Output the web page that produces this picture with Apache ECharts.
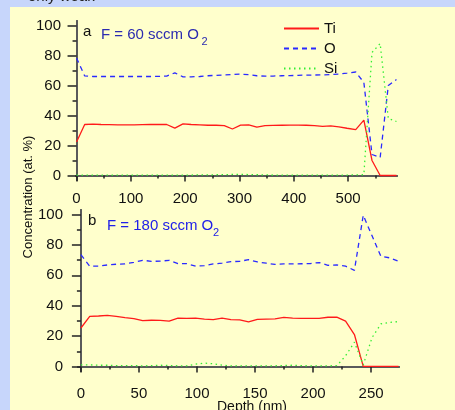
<!DOCTYPE html>
<html>
<head>
<meta charset="utf-8">
<script src="https://cdn.jsdelivr.net/npm/echarts@6/dist/echarts.min.js"></script>
<style>
  html, body { margin: 0; padding: 0; background: #c7d6fb; }
  #panel { position: absolute; left: 10px; top: 7px; width: 445px; height: 403px; background: #ffffcc; }
  #chart { position: absolute; left: 0; top: 0; width: 455px; height: 410px; }
</style>
</head>
<body>
<div id="panel"></div>
<div id="chart"></div>
<script>
// panel a: F = 60 sccm O2
const depthA = [0, 15, 30, 45, 60, 76, 91, 106, 121, 136, 151, 166, 181, 196, 211, 227, 242, 257, 272, 287,
  302, 317, 332, 347, 362, 378, 393, 408, 423, 438, 453, 468, 483, 498, 514, 529, 544, 559, 574, 589];
const tiA = [22.3, 34, 34.3, 34, 33.9, 33.8, 33.8, 33.8, 33.9, 34, 34, 34, 31.6, 34.4, 34, 33.8, 33.5, 33.5, 33.3, 31,
  33.6, 33.8, 32.2, 33.3, 33.4, 33.5, 33.6, 33.6, 33.5, 33.3, 32.8, 33.1, 32.4, 31.5, 30.6, 36.9, 10, 0, 0, 0];
const oA = [78.3, 66.4, 66, 66, 66, 66, 66, 66, 66, 66, 66.1, 66.3, 68.4, 65.8, 65.8, 66, 66.5, 66.8, 67, 67.3,
  67.6, 67.2, 66.5, 66.2, 66.3, 66.5, 66.6, 66.8, 66.9, 67, 67.1, 67.3, 67.6, 68.2, 69, 62, 14, 12, 60, 64];
const siA = [0.3, 0.3, 0.3, 0.3, 0.3, 0.3, 0.3, 0.3, 0.3, 0.3, 0.3, 0.3, 0.3, 0.3, 0.3, 0.4, 0.4, 0.5, 0.6, 0.7,
  0.8, 0.6, 0.5, 0.4, 0.3, 0.3, 0.3, 0.3, 0.3, 0.3, 0.3, 0.3, 0.3, 0.3, 0.4, 0.5, 82, 88, 38, 36];

// panel b: F = 180 sccm O2
const depthB = [0, 7.6, 15.2, 22.8, 30.4, 38, 45.6, 53.2, 60.8, 68.4, 76, 83.6, 91.2, 98.8, 106.4, 114, 121.6, 129.2,
  136.8, 144.4, 152, 159.6, 167.2, 174.8, 182.4, 190, 197.6, 205.2, 212.8, 220.4, 228, 235.6, 243.2, 250.8, 258.4, 266, 273.6];
const tiB = [25.3, 33, 33.2, 33.6, 33, 32.2, 31.5, 30.1, 30.4, 30.3, 29.9, 31.8, 31.7, 31.8, 31.2, 30.8, 31.8, 30.8,
  30.7, 29.3, 31, 31.2, 31.3, 32.3, 31.8, 31.6, 31.6, 31.7, 32.4, 32.5, 29.8, 21, 0, 0, 0, 0, 0];
const oB = [73.6, 66, 66, 66.8, 67.3, 67.5, 68.5, 69.9, 69.2, 69.3, 69.9, 67.7, 67.7, 66, 66.4, 67.5, 68, 69,
  69.2, 70.3, 68.8, 68, 67.2, 67.5, 67.5, 67.6, 67.7, 68.4, 66.6, 66.8, 66, 63.3, 99.5, 86, 72.5, 71.5, 69.2];
const siB = [1, 1, 0.8, 0.8, 0.6, 0.5, 0.5, 0.4, 0.5, 0.8, 0.6, 0.4, 0.4, 1.5, 2.2, 1.8, 0.8, 0.4,
  0.4, 0.4, 0.4, 0.4, 0.4, 0.6, 0.8, 0.5, 0.4, 0.4, 0.4, 0.5, 7, 16, 1, 19, 28, 29, 29.5];

// ticks and labels
const yMajor = [0, 20, 40, 60, 80, 100];
const yMinor = [10, 30, 50, 70, 90];
const yRight = [0, 10, 20, 30, 40, 50, 60, 70, 80, 90, 100];
const xMajorA = [0, 100, 200, 300, 400, 500];
const xMinorA = [50, 150, 250, 350, 450, 550];
const xMajorB = [0, 50, 100, 150, 200, 250];
const xMinorB = [25, 75, 125, 175, 225];

const FONT = 'Liberation Sans, Arial, sans-serif';
const frame = { show: true, lineStyle: { color: '#5a5a5a', width: 2 } };
const tickStyle = { color: '#222', width: 1.5 };

function xAxes(grid, min, max, major, minor, margin) {
  return [
    { gridIndex: grid, type: 'value', min: min, max: max, position: 'bottom',
      axisLine: frame, splitLine: { show: false },
      axisTick: { length: 6, customValues: major, lineStyle: tickStyle },
      axisLabel: { customValues: major, margin: margin, fontSize: 15, color: '#111', fontFamily: FONT } },
    { gridIndex: grid, type: 'value', min: min, max: max, position: 'bottom',
      axisLine: { show: false }, splitLine: { show: false }, axisLabel: { show: false },
      axisTick: { length: 3, customValues: minor, lineStyle: tickStyle } },
    { gridIndex: grid, type: 'value', min: min, max: max, position: 'top',
      axisLine: frame, splitLine: { show: false }, axisLabel: { show: false }, axisTick: { show: false } }
  ];
}

function yAxes(grid) {
  return [
    { gridIndex: grid, type: 'value', min: -3, max: 103, position: 'left',
      axisLine: frame, splitLine: { show: false },
      axisTick: { length: 9, customValues: yMajor, lineStyle: tickStyle },
      axisLabel: { customValues: yMajor, margin: 15, fontSize: 15, color: '#111', fontFamily: FONT } },
    { gridIndex: grid, type: 'value', min: -3, max: 103, position: 'left',
      axisLine: { show: false }, splitLine: { show: false }, axisLabel: { show: false },
      axisTick: { length: 4, customValues: yMinor, lineStyle: tickStyle } },
    { gridIndex: grid, type: 'value', min: -3, max: 103, position: 'right',
      axisLine: frame, splitLine: { show: false }, axisLabel: { show: false },
      axisTick: { inside: true, length: 4, customValues: yRight, lineStyle: tickStyle } }
  ];
}

function pairs(xs, ys) {
  return xs.map((x, i) => [x, ys[i]]);
}

function line(name, grid, xs, ys, color, type) {
  return {
    name: name, type: 'line', xAxisIndex: grid * 3, yAxisIndex: grid * 3,
    data: pairs(xs, ys), symbol: 'none', silent: true,
    lineStyle: { color: color, width: 1.3, type: type },
    itemStyle: { color: color }
  };
}

const RED = '#ff1a1a', BLUE = '#2a2aff', GREEN = '#33ee33';
const DASH = [5, 4], DOT = [1.5, 3.5];

const chart = echarts.init(document.getElementById('chart'));
chart.setOption({
  animation: false,
  textStyle: { fontFamily: FONT },
  grid: [
    { left: 76, top: 21, width: 321, height: 159 },
    { left: 78, top: 210, width: 321, height: 161 }
  ],
  xAxis: xAxes(0, -1, 590, xMajorA, xMinorA, 11).concat(xAxes(1, -2.5, 274, xMajorB, xMinorB, 15)),
  yAxis: yAxes(0).concat(yAxes(1)),
  legend: {
    data: ['Ti', 'O', 'Si'], orient: 'vertical', left: 283, top: 21, padding: 0,
    itemWidth: 35, itemHeight: 14, itemGap: 5,
    itemStyle: { opacity: 0 },
    textStyle: { fontSize: 15, color: '#111', fontFamily: FONT }
  },
  series: [
    line('Ti', 0, depthA, tiA, RED, 'solid'),
    line('O', 0, depthA, oA, BLUE, DASH),
    line('Si', 0, depthA, siA, GREEN, DOT),
    line('Ti', 1, depthB, tiB, RED, 'solid'),
    line('O', 1, depthB, oB, BLUE, DASH),
    line('Si', 1, depthB, siB, GREEN, DOT)
  ],
  graphic: [
    { type: 'text', left: 28, top: -11, style: { text: 'only weak', fontSize: 15, fill: '#222', font: '15px ' + FONT } },
    { type: 'text', x: 83, y: 31.5, style: { text: 'a', font: '15px ' + FONT, fill: '#111', verticalAlign: 'middle' } },
    { type: 'text', x: 101, y: 35, style: { text: 'F = 60 sccm O', font: '15px ' + FONT, fill: '#2b2bb0', verticalAlign: 'middle' } },
    { type: 'text', x: 201.5, y: 41.5, style: { text: '2', font: '11px ' + FONT, fill: '#2b2bb0', verticalAlign: 'middle' } },
    { type: 'text', x: 88, y: 220.5, style: { text: 'b', font: '15px ' + FONT, fill: '#111', verticalAlign: 'middle' } },
    { type: 'text', x: 107, y: 226, style: { text: 'F = 180 sccm O', font: '15px ' + FONT, fill: '#2020e8', verticalAlign: 'middle' } },
    { type: 'text', x: 213, y: 232.5, style: { text: '2', font: '11px ' + FONT, fill: '#2020e8', verticalAlign: 'middle' } },
    { type: 'text', x: 28, y: 197, rotation: Math.PI / 2,
      style: { text: 'Concentration (at. %)', font: '13px ' + FONT, fill: '#111', align: 'center', verticalAlign: 'middle' } },
    { type: 'text', x: 252, y: 400,
      style: { text: 'Depth (nm)', font: '14px ' + FONT, fill: '#111', align: 'center', verticalAlign: 'top' } }
  ]
});
</script>
</body>
</html>
